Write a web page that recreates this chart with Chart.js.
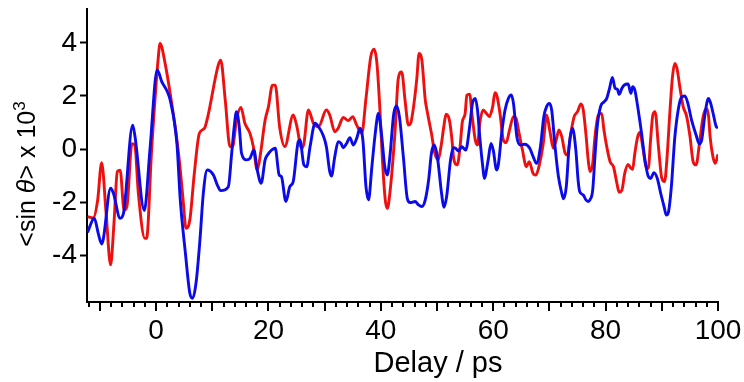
<!DOCTYPE html>
<html><head><meta charset="utf-8">
<script src="https://cdn.jsdelivr.net/npm/chart.js@4.4.0/dist/chart.umd.min.js"></script>
<style>html,body{margin:0;padding:0;background:#fff}#wrap{width:744px;height:382px}</style>
</head><body><div id="wrap"><canvas id="c" width="744" height="382"></canvas></div>
<script>
const redDelay=[-12.2,-11.2,-10.4,-9.7,-8.9,-8.1,-7.5,-6.9,-6.4,-5.7,-5.2,-4.3,-3.8,-3.16,-2.0,-1.7,-0.8,0.4,0.7,1.6,2.5,3.7,4.25,4.8,5.33,6.0,6.8,7.7,8.6,9.2,11.07,11.5,12.3,13.15,13.6,14.3,15.1,15.8,16.7,17.3,18.0,18.5,19.4,20.0,20.7,21.2,22.0,22.9,24.4,25.0,25.9,26.3,27.1,28.0,28.9,30.3,30.9,31.8,32.4,33.3,34.2,35.0,35.7,36.6,37.35,38.2,38.8,39.3,39.8,40.3,40.8,41.15,41.6,42.5,43.1,43.7,44.3,44.9,45.3,45.9,46.4,46.8,47.3,47.9,48.2,49.0,49.6,50.2,50.7,51.2,51.6,52.2,52.6,53.0,53.6,54.1,54.5,55.0,55.3,55.8,56.2,56.8,57.2,57.6,58.2,58.8,59.3,59.9,60.3,60.7,61.2,61.8,62.3,62.9,63.6,64.05,64.6,65.2,65.9,66.4,67.1,67.6,68.2,68.9,69.5,70.1,70.7,71.2,71.7,72.2,72.8,73.2,73.8,74.4,75.0,75.6,76.0,76.5,76.9,77.2,77.7,78.1,78.7,79.3,79.7,80.2,80.8,81.4,82.0,82.4,82.9,83.4,84.0,84.5,84.8,85.2,85.7,86.1,86.6,87.2,87.6,88.0,88.4,88.8,89.4,90.0,90.5,90.9,91.5,91.9,92.3,92.7,93.2,93.8,94.4,95.0,95.6,96.1,96.7,97.3,97.9,98.3,98.6,99.1,99.5,100.0];
const redSignal=[-2.55,-2.6,-1.92,-0.52,-2.42,-4.37,-2.8,-0.85,-0.8,-2.3,-2.17,0.2,0.15,-1.67,-3.37,-3.37,-0.04,3.48,3.98,3.23,2.1,0.34,-0.67,-1.92,-2.99,-2.68,-0.92,0.59,0.78,1.22,3.17,3.35,1.85,0.09,0.09,1.09,1.57,0.97,0.59,0.09,-0.79,-0.29,1.09,1.6,2.41,2.41,0.8,0.09,1.28,0.9,0.03,0.2,1.47,0.97,0.84,1.47,1.28,0.65,0.78,1.19,1.07,1.22,0.9,0.59,1.91,3.48,3.76,3.23,1.6,-0.5,-1.95,-2.24,-1.67,0.59,2.66,2.91,1.85,0.9,0.97,1.72,2.66,3.6,3.35,1.85,1.47,0.59,-0.16,-0.41,0.09,0.84,1.31,1.09,0.46,-0.41,-0.6,0.09,1.03,1.34,2.03,2.07,1.34,0.34,0.15,0.97,1.47,1.34,1.22,1.6,2.12,1.97,1.34,0.34,0.24,0.72,1.22,1.16,0.59,-0.04,-0.67,-0.48,-0.92,-0.98,-0.6,0.21,1.28,0.65,0.03,0.34,0.72,0.46,-0.16,-0.23,0.59,1.22,1.41,1.7,1.5,0.55,-0.41,-0.85,-0.54,0.46,1.28,1.34,0.72,0.09,-0.48,-0.67,-1.29,-1.63,-1.55,-0.92,-0.58,-0.73,-0.77,-0.16,0.46,0.62,0.09,-0.67,-0.73,0.34,1.28,1.41,0.09,-1.11,-1.23,-0.41,1.6,2.73,3.23,3.04,2.35,1.6,1.25,0.5,-0.5,-0.6,0.21,1.16,1.53,1.28,0.46,-0.29,-0.54,-0.2];
const blueDelay=[-12.2,-11.0,-10.3,-9.7,-9.4,-8.1,-7.6,-6.4,-5.8,-4.17,-3.75,-2.1,-1.1,0.2,1.0,2.0,2.5,3.7,4.3,5.2,6.0,6.5,7.1,7.8,8.4,9.1,10.2,10.9,11.5,12.85,13.45,13.9,14.3,14.8,15.2,16.1,16.7,17.4,18.0,18.7,19.4,19.8,21.2,21.9,22.3,23.1,23.8,24.4,25.3,25.6,26.3,26.8,27.4,28.3,28.9,29.7,30.3,30.9,31.2,31.8,32.4,32.9,33.3,33.9,34.5,35.1,35.7,36.3,36.8,37.35,37.8,38.4,39.0,39.55,40.1,40.7,41.15,41.6,42.3,42.8,43.3,44.0,44.7,45.2,46.1,46.7,47.3,47.9,48.5,49.0,49.5,50.05,50.8,51.2,51.7,52.4,52.9,53.3,53.8,54.4,55.1,55.8,56.3,56.8,57.2,57.6,58.2,58.4,59.1,59.6,60.0,60.6,60.9,61.5,62.1,62.7,63.2,63.6,64.2,64.8,65.6,66.5,67.1,67.7,68.4,69.0,69.5,70.0,70.4,71.0,71.6,72.2,72.5,73.0,73.5,74.1,74.7,75.1,75.4,76.0,76.5,76.9,77.2,77.7,78.1,78.5,79.1,79.7,80.2,80.7,81.2,81.7,82.1,82.4,82.9,83.3,84.0,84.5,84.8,85.2,85.8,86.4,87.0,87.6,88.0,88.6,89.2,89.8,90.4,90.8,91.2,91.7,92.3,92.9,93.5,94.1,94.6,95.3,96.1,96.7,97.1,97.7,98.3,98.7,99.2,99.7,100.0];
const blueSignal=[-3.14,-2.61,-3.18,-3.58,-3.4,-1.48,-1.67,-2.61,-2.42,0.9,0.46,-2.32,-0.04,2.98,2.54,2.16,1.85,0.21,-1.92,-3.9,-5.44,-5.63,-5.06,-3.43,-1.67,-0.79,-0.98,-1.36,-1.57,-1.42,-0.16,0.84,1.41,0.84,-0.16,-0.41,-0.35,-0.04,-0.79,-1.29,-0.41,-0.23,0.03,-0.98,-1.04,-1.98,-1.42,-1.23,0.28,0.34,-0.6,-0.67,0.09,0.97,0.84,0.53,0.09,-0.85,-1.02,-0.29,0.28,0.21,0.05,0.21,0.43,0.15,0.4,0.78,0.34,-1.42,-1.92,-0.67,0.59,1.34,0.59,-0.67,-0.98,-0.29,1.34,1.62,1.22,-0.29,-1.86,-2.02,-1.98,-2.11,-2.17,-1.92,-1.17,-0.16,0.15,-0.29,-1.67,-2.2,-1.8,-0.41,0.05,0.03,-0.08,0.09,-0.04,0.84,1.72,1.91,1.47,0.45,-0.79,-1.11,-0.41,0.21,-0.04,-0.79,-0.6,0.59,1.47,1.91,2.04,1.72,0.46,0.15,0.18,0.03,-0.29,-0.54,0.09,1.22,1.6,1.72,1.47,0.09,-1.04,-1.67,-1.88,-1.42,0.09,0.78,-0.04,-1.17,-1.61,-1.73,-1.92,-1.98,-1.92,-1.55,-0.29,0.84,1.6,1.78,1.91,2.29,2.7,2.29,2.25,2.06,2.29,2.41,2.45,2.1,2.35,2.22,1.47,0.59,-0.41,-1.04,-1.11,-0.89,-1.11,-1.67,-2.17,-2.49,-2.36,-1.42,0.4,1.45,1.95,2.0,1.75,1.09,0.53,0.19,0.34,1.34,1.91,1.72,1.28,0.84,0.8];
const xTickLabels=[0,20,40,60,80,100];
const yTickLabels=[-4,-2,0,2,4];
const xTitle='Delay / ps';
const FONT='"Liberation Sans", Arial, sans-serif';

const xMinorTicks=[];
for(let v=-12; v<=100; v+=2) xMinorTicks.push(v);

const toPts=(xs,ys)=>xs.map((x,i)=>({x:x,y:ys[i]}));

const axisDecor={
  id:'axisDecor',
  afterDraw(chart){
    const ctx=chart.ctx, xs=chart.scales.x, area=chart.chartArea;
    ctx.save();
    ctx.strokeStyle='#000'; ctx.lineWidth=2;
    ctx.beginPath();
    xMinorTicks.forEach(v=>{
      const px=Math.round(xs.getPixelForValue(v));
      const len=(v%10===0)?9:5;
      ctx.moveTo(px,area.bottom); ctx.lineTo(px,area.bottom+len);
    });
    ctx.stroke();
    ctx.fillStyle='#000';
    ctx.font='29px '+FONT;
    ctx.textAlign='center'; ctx.textBaseline='alphabetic';
    ctx.fillText(xTitle,438,372);
    const parts=[
      {t:'<sin ',f:'25px '+FONT,dy:0},
      {t:'\u03B8',f:'italic 25px '+FONT,dy:0},
      {t:'> x 10',f:'25px '+FONT,dy:0},
      {t:'3',f:'17px '+FONT,dy:-10}
    ];
    let total=0;
    parts.forEach(p=>{ctx.font=p.f;p.w=ctx.measureText(p.t).width;total+=p.w;});
    ctx.translate(35,174);
    ctx.rotate(-Math.PI/2);
    ctx.textAlign='left';
    let cx=-total/2;
    parts.forEach(p=>{ctx.font=p.f;ctx.fillText(p.t,cx,p.dy);cx+=p.w;});
    ctx.restore();
  }
};

new Chart(document.getElementById('c'),{
  type:'line',
  data:{datasets:[
    {label:'blue',data:toPts(blueDelay,blueSignal),borderColor:'rgb(10,10,235)',borderWidth:2.9,pointRadius:0,fill:false,cubicInterpolationMode:'monotone'},
    {label:'red',data:toPts(redDelay,redSignal),borderColor:'rgb(240,15,15)',borderWidth:2.9,pointRadius:0,fill:false,cubicInterpolationMode:'monotone'}
  ]},
  options:{
    responsive:false,animation:false,devicePixelRatio:1,
    layout:{padding:{left:0,right:26,top:9,bottom:0}},
    plugins:{legend:{display:false},tooltip:{enabled:false}},
    scales:{
      x:{type:'linear',min:-12.3,max:100,
        afterBuildTicks:s=>{s.ticks=xTickLabels.map(v=>({value:v}));},
        afterFit:s=>{s.height=80;s.paddingLeft=0;s.paddingRight=0;},
        grid:{drawOnChartArea:false,tickLength:9,tickColor:'rgba(0,0,0,0)'},
        border:{display:true,color:'#000',width:2},
        ticks:{color:'#000',font:{family:FONT,size:28},padding:3,maxRotation:0,autoSkip:false}
      },
      y:{type:'linear',min:-5.77,max:5.28,
        afterBuildTicks:s=>{s.ticks=yTickLabels.map(v=>({value:v}));},
        afterFit:s=>{s.width=87;s.paddingTop=0;s.paddingBottom=0;},
        grid:{drawOnChartArea:false,tickLength:7,tickColor:'#000',tickWidth:2},
        border:{display:true,color:'#000',width:2},
        ticks:{color:'#000',font:{family:FONT,size:28},padding:3}
      }
    }
  },
  plugins:[axisDecor]
});
</script>
</body></html>
